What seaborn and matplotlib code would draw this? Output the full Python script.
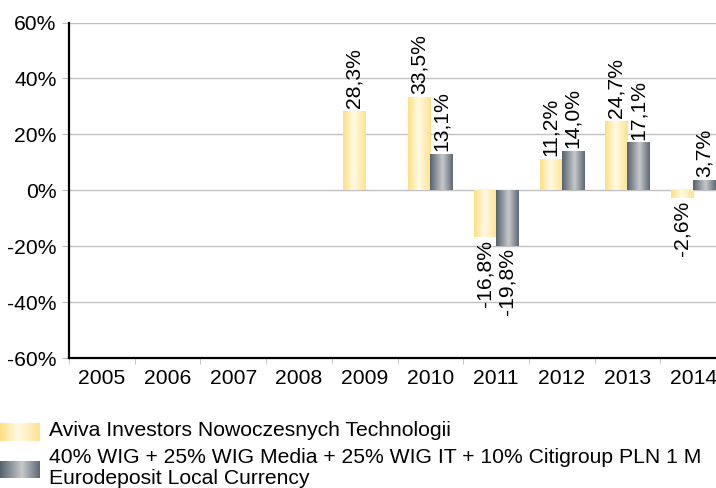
import numpy as np
import pandas as pd
import seaborn as sns
import matplotlib.pyplot as plt
from matplotlib.colors import LinearSegmentedColormap

# -------------------------------
# Data (annual returns, %)
# -------------------------------
years = ['2005', '2006', '2007', '2008', '2009', '2010', '2011', '2012', '2013', '2014']
fund = [np.nan, np.nan, np.nan, np.nan, 28.3, 33.5, -16.8, 11.2, 24.7, -2.6]
bench = [np.nan, np.nan, np.nan, np.nan, np.nan, 13.1, -19.8, 14.0, 17.1, 3.7]
series = ['Aviva Investors Nowoczesnych Technologii',
          '40% WIG + 25% WIG Media + 25% WIG IT + 10% Citigroup PLN 1 M\nEurodeposit Local Currency']
yticks = [-60, -40, -20, 0, 20, 40, 60]
ytick_labels = ['-60%', '-40%', '-20%', '0%', '20%', '40%', '60%']

df = pd.DataFrame({
    'Rok': years * 2,
    'Stopa': fund + bench,
    'Seria': [series[0]] * len(years) + [series[1]] * len(years),
}).dropna()

# gradient fills
yellow_cmap = LinearSegmentedColormap.from_list(
    'yel', [(0, '#FFDF80'), (0.45, '#FFFAE6'), (1, '#FFE38F')])
gray_cmap = LinearSegmentedColormap.from_list(
    'gry', [(0, '#55616D'), (0.55, '#C6C9CC'), (1, '#5D6875')])
cmaps = [yellow_cmap, gray_cmap]
grad = np.linspace(0, 1, 256).reshape(1, -1)

FS = 15.2

sns.set_style("white")
plt.rcParams['font.family'] = ['Liberation Sans', 'DejaVu Sans']
plt.rcParams['text.color'] = 'black'

fig = plt.figure(figsize=(7.16, 4.88), dpi=100)
ax = fig.add_axes([69 / 716, 1 - 358 / 488, 657 / 716, 335.5 / 488])

sns.barplot(data=df, x='Rok', y='Stopa', hue='Seria', order=years,
            hue_order=series, width=0.67, legend=False, errorbar=None,
            ax=ax, linewidth=0)

for cont, cmap in zip(ax.containers, cmaps):
    for bar in cont.patches:
        h = bar.get_height()
        if not np.isfinite(h) or h == 0:
            continue
        x0, y0 = bar.get_x(), bar.get_y()
        w = bar.get_width()
        bar.set_facecolor('none')
        im = ax.imshow(grad, cmap=cmap, aspect='auto', zorder=2,
                       extent=(x0, x0 + w, y0, y0 + h))
        im.set_clip_path(bar)
        label = f"{h:.1f}%".replace('.', ',')
        ax.annotate(label, (x0 + w / 2, h), xytext=(0, 2 if h > 0 else -2),
                    textcoords='offset points', rotation=90, ha='center',
                    va='bottom' if h > 0 else 'top', fontsize=FS, zorder=4,
                    color='black')

ax.set_xlim(-0.5, len(years) - 0.5)
ax.set_ylim(-60, 60)
ax.set_yticks(yticks)
ax.set_yticklabels(ytick_labels)
ax.set_xticks(range(len(years)))
ax.set_xticklabels(years)
ax.set_xticks(np.arange(-0.5, len(years), 1), minor=True)
ax.set_xlabel('')
ax.set_ylabel('')

ax.yaxis.grid(True, color='#C0C0C0', linewidth=1)
ax.set_axisbelow(True)
ax.tick_params(axis='y', which='major', length=5, color='#C0C0C0',
               labelcolor='black', labelsize=FS, pad=4, left=True)
ax.tick_params(axis='x', which='major', length=0, labelsize=FS, pad=8,
               labelcolor='black')
ax.tick_params(axis='x', which='minor', length=4, color='#C0C0C0', bottom=True)

for side in ['top', 'right']:
    ax.spines[side].set_visible(False)
for side in ['left', 'bottom']:
    ax.spines[side].set_color('black')
    ax.spines[side].set_linewidth(1.6)

# -------------------------------
# Legend below the plot
# -------------------------------
sw1 = fig.add_axes([0, 1 - 441 / 488, 40 / 716, 18 / 488])
sw1.imshow(grad, cmap=yellow_cmap, aspect='auto')
sw1.axis('off')
sw2 = fig.add_axes([0, 1 - 478 / 488, 40 / 716, 17 / 488])
sw2.imshow(grad, cmap=gray_cmap, aspect='auto')
sw2.axis('off')

fig.text(49 / 716, 1 - 431 / 488, series[0], fontsize=FS, va='center')
fig.text(49 / 716, 1 - 468 / 488, series[1], fontsize=FS, va='center',
         linespacing=1.08)

fig.savefig('out.png', dpi=100)
plt.close(fig)
